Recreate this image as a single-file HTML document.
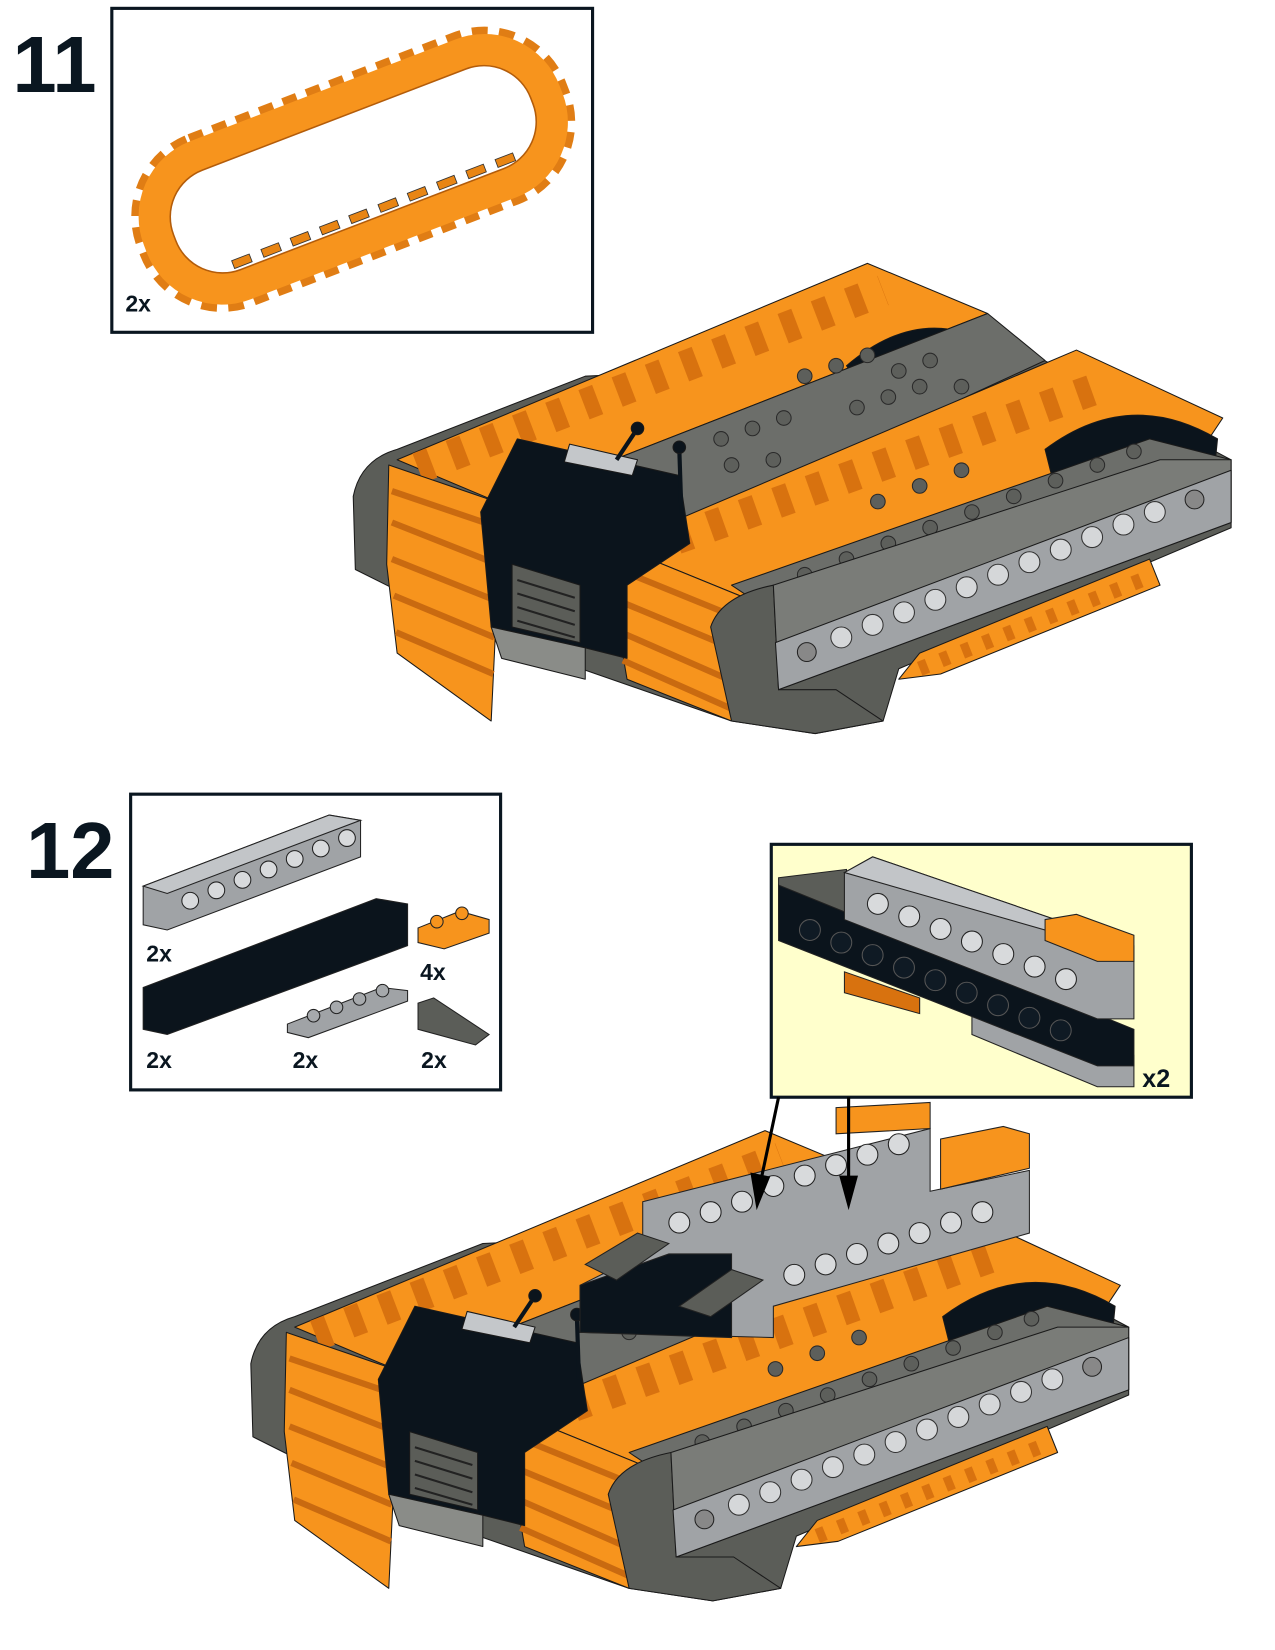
<!DOCTYPE html>
<html><head><meta charset="utf-8"><style>
html,body{margin:0;padding:0;background:#fff;}
svg{display:block;}
text{font-family:"Liberation Sans",sans-serif;font-weight:bold;fill:#0a1620;}
</style></head><body>
<svg width="1275" height="1650" viewBox="0 0 1220 1579" preserveAspectRatio="none" xmlns="http://www.w3.org/2000/svg">
<defs>
<g id="tank" stroke="#1a1a1a" stroke-width="1" stroke-linejoin="round">
  <path d="M338,475 Q345,440 380,430 L560,360 L990,340 L1178,440 L1178,505 L860,640 L845,690 L780,702 L700,690 L470,610 L340,545 Z" fill="#5b5d58"/>
  <path d="M380,440 L830,252 L945,300 L480,482 Z" fill="#f7941d"/>
  <line x1="400" y1="448" x2="845" y2="278" stroke="#d8720f" stroke-width="30" stroke-dasharray="14 20"/>
  <path d="M372,445 L480,482 L470,690 L380,625 L370,540 Z" fill="#f7941d"/>
  <path d="M375,470 L478,505 M375,500 L476,540 M375,535 L475,575 M377,570 L473,610 M379,605 L472,645" stroke="#c96a10" stroke-width="6" fill="none"/>
  <path d="M810,350 Q880,290 950,330 L950,380 L830,380 Z" fill="#0b141c"/>
  <path d="M480,482 L945,300 L1000,345 L620,520 L560,500 Z" fill="#6c6e6a"/>
  <g fill="#5d5f5b" stroke="#2a2a2a">
    <circle cx="770" cy="360" r="7"/><circle cx="800" cy="350" r="7"/><circle cx="830" cy="340" r="7"/><circle cx="860" cy="355" r="7"/><circle cx="890" cy="345" r="7"/>
    <circle cx="690" cy="420" r="7"/><circle cx="720" cy="410" r="7"/><circle cx="750" cy="400" r="7"/><circle cx="740" cy="440" r="7"/><circle cx="700" cy="445" r="7"/>
    <circle cx="820" cy="390" r="7"/><circle cx="850" cy="380" r="7"/><circle cx="880" cy="370" r="7"/><circle cx="920" cy="370" r="7"/>
  </g>
  <path d="M590,522 L1030,335 L1170,400 L1150,430 L720,575 Z" fill="#f7941d"/>
  <line x1="615" y1="527" x2="1060" y2="368" stroke="#d8720f" stroke-width="30" stroke-dasharray="14 20"/>
  <path d="M1000,430 Q1080,370 1165,420 L1160,470 L1010,470 Z" fill="#0b141c"/>
  <path d="M700,560 L1100,420 L1178,440 L760,600 Z" fill="#6c6e6a"/>
  <g fill="#5d5f5b" stroke="#2a2a2a">
    <circle cx="770" cy="550" r="7"/><circle cx="810" cy="535" r="7"/><circle cx="850" cy="520" r="7"/><circle cx="890" cy="505" r="7"/><circle cx="930" cy="490" r="7"/><circle cx="970" cy="475" r="7"/><circle cx="1010" cy="460" r="7"/><circle cx="1050" cy="445" r="7"/><circle cx="1085" cy="432" r="7"/>
    <circle cx="840" cy="480" r="7"/><circle cx="880" cy="465" r="7"/><circle cx="920" cy="450" r="7"/>
  </g>
  <path d="M590,522 L720,575 L700,690 L600,650 L588,580 Z" fill="#f7941d"/>
  <path d="M592,545 L715,595 M592,575 L712,625 M594,605 L708,655 M596,632 L704,680" stroke="#c96a10" stroke-width="6" fill="none"/>
  <path d="M860,650 L880,625 L1100,535 L1110,560 L900,645 Z" fill="#f7941d"/>
  <path d="M880,640 L1100,552" stroke="#d8720f" stroke-width="14" stroke-dasharray="8 14"/>
  <path d="M680,600 Q690,570 740,560 L745,660 L800,660 L845,690 L780,702 L700,690 Z" fill="#5b5d58"/>
  <path d="M740,560 L1110,440 L1178,440 L1178,500 L745,660 Z" fill="#7a7c78"/>
  <path d="M742,615 L1178,450 L1178,500 L745,660 Z" fill="#a0a3a6"/>
  <g fill="#d5d7d9" stroke="#333">
    <circle cx="805" cy="610" r="10"/><circle cx="835" cy="598" r="10"/><circle cx="865" cy="586" r="10"/><circle cx="895" cy="574" r="10"/><circle cx="925" cy="562" r="10"/><circle cx="955" cy="550" r="10"/><circle cx="985" cy="538" r="10"/><circle cx="1015" cy="526" r="10"/><circle cx="1045" cy="514" r="10"/><circle cx="1075" cy="502" r="10"/><circle cx="1105" cy="490" r="10"/>
  </g>
  <circle cx="772" cy="624" r="9" fill="#888" stroke="#222"/>
  <circle cx="1143" cy="478" r="9" fill="#888" stroke="#222"/>
  <path d="M460,490 L495,420 L650,455 L660,520 L600,560 L600,630 L560,620 L470,600 Z" fill="#0b141c"/>
  <path d="M545,425 L610,440 L605,455 L540,442 Z" fill="#c4c7ca"/>
  <path d="M490,540 L555,560 L555,615 L490,600 Z" fill="#5b5d58"/>
  <path d="M495,555 L550,572 M495,568 L550,585 M495,581 L550,598 M495,594 L550,610" stroke="#222" stroke-width="2"/>
  <path d="M470,600 L560,620 L560,650 L480,630 Z" fill="#8a8c88"/>
  <line x1="590" y1="440" x2="610" y2="410" stroke="#0b141c" stroke-width="4"/>
  <circle cx="610" cy="410" r="6" fill="#0b141c"/>
  <line x1="650" y1="430" x2="652" y2="490" stroke="#0b141c" stroke-width="4"/>
  <circle cx="650" cy="428" r="6" fill="#0b141c"/>
</g>
</defs>

<text x="12" y="88" font-size="76">11</text>
<rect x="107" y="8" width="460" height="310" fill="#fff" stroke="#0a1620" stroke-width="3"/>
<g transform="translate(338,162) rotate(-21)">
  <rect x="-210" y="-78" width="420" height="156" rx="74" fill="none" stroke="#e07d14" stroke-width="20" stroke-dasharray="14 10"/>
  <rect x="-198" y="-66" width="396" height="132" rx="62" fill="none" stroke="#f7941d" stroke-width="30"/>
  <rect x="-183" y="-51" width="366" height="102" rx="48" fill="none" stroke="#b35c0a" stroke-width="1.5"/>
  <g fill="#e88514" stroke="#333" stroke-width="0.8">
    <rect x="-140" y="40" width="18" height="8"/><rect x="-110" y="40" width="18" height="8"/><rect x="-80" y="40" width="18" height="8"/><rect x="-50" y="40" width="18" height="8"/><rect x="-20" y="40" width="18" height="8"/><rect x="10" y="40" width="18" height="8"/><rect x="40" y="40" width="18" height="8"/><rect x="70" y="40" width="18" height="8"/><rect x="100" y="40" width="18" height="8"/><rect x="130" y="40" width="18" height="8"/>
  </g>
</g>
<text x="120" y="298" font-size="22">2x</text>

<use href="#tank"/>

<text x="25" y="840" font-size="76">12</text>
<rect x="125" y="760" width="354" height="283" fill="#fff" stroke="#0a1620" stroke-width="3"/>
<g stroke="#222" stroke-width="1">
  <path d="M137,848 L315,780 L345,785 L345,820 L160,890 L137,885 Z" fill="#a0a3a6"/>
  <path d="M137,848 L315,780 L345,785 L160,855 Z" fill="#c2c5c8"/>
  <g fill="#d8dadc"><circle cx="182" cy="862" r="8"/><circle cx="207" cy="852" r="8"/><circle cx="232" cy="842" r="8"/><circle cx="257" cy="832" r="8"/><circle cx="282" cy="822" r="8"/><circle cx="307" cy="812" r="8"/><circle cx="332" cy="802" r="8"/></g>
  <path d="M137,945 L360,860 L390,865 L390,905 L160,990 L137,985 Z" fill="#0b141c"/>
  <path d="M400,888 L440,872 L468,880 L468,893 L425,908 L400,902 Z" fill="#f7941d"/>
  <circle cx="418" cy="882" r="6" fill="#f7941d"/><circle cx="442" cy="874" r="6" fill="#f7941d"/>
  <path d="M275,980 L365,945 L390,948 L390,958 L295,993 L275,988 Z" fill="#a0a3a6"/>
  <g fill="#a6a9ac"><circle cx="300" cy="972" r="6"/><circle cx="322" cy="964" r="6"/><circle cx="344" cy="956" r="6"/><circle cx="366" cy="948" r="6"/></g>
  <path d="M400,985 L400,960 L415,955 L468,990 L455,1000 Z" fill="#5b5d58"/>
</g>
<text x="140" y="920" font-size="22">2x</text>
<text x="402" y="938" font-size="22">4x</text>
<text x="140" y="1022" font-size="22">2x</text>
<text x="280" y="1022" font-size="22">2x</text>
<text x="403" y="1022" font-size="22">2x</text>

<use href="#tank" transform="translate(-98,830)"/>
<g stroke="#222" stroke-width="1">
  <path d="M800,1060 L890,1055 L890,1080 L800,1085 Z" fill="#f7941d"/>
  <path d="M615,1150 L890,1080 L890,1140 L985,1120 L985,1180 L740,1250 L740,1280 L555,1275 L555,1230 L615,1200 Z" fill="#a0a3a6"/>
  <path d="M900,1090 L960,1078 L985,1085 L985,1118 L900,1138 Z" fill="#f7941d"/>
  <path d="M555,1230 L640,1200 L700,1200 L700,1280 L555,1275 Z" fill="#0b141c"/>
  <path d="M560,1210 L610,1180 L640,1190 L590,1225 Z" fill="#5b5d58"/>
  <path d="M650,1250 L700,1215 L730,1225 L680,1260 Z" fill="#5b5d58"/>
  <g fill="#d8dadc">
    <circle cx="650" cy="1170" r="10"/><circle cx="680" cy="1160" r="10"/><circle cx="710" cy="1150" r="10"/><circle cx="740" cy="1135" r="10"/><circle cx="770" cy="1125" r="10"/><circle cx="800" cy="1115" r="10"/><circle cx="830" cy="1105" r="10"/><circle cx="860" cy="1095" r="10"/>
    <circle cx="760" cy="1220" r="10"/><circle cx="790" cy="1210" r="10"/><circle cx="820" cy="1200" r="10"/><circle cx="850" cy="1190" r="10"/><circle cx="880" cy="1180" r="10"/><circle cx="910" cy="1170" r="10"/><circle cx="940" cy="1160" r="10"/>
  </g>
</g>

<rect x="738" y="808" width="402" height="242" fill="#ffffcc" stroke="#0a1620" stroke-width="3"/>
<g stroke="#222" stroke-width="1">
  <path d="M745,840 L810,832 L810,905 L745,880 Z" fill="#5b5d58"/>
  <path d="M808,930 L880,955 L880,970 L808,950 Z" fill="#d8720f"/>
  <path d="M930,960 L1050,1010 L1085,1010 L1085,1040 L1050,1040 L930,990 Z" fill="#a0a3a6"/>
  <path d="M745,847 L1085,985 L1085,1020 L1050,1020 L745,900 Z" fill="#0b141c"/>
  <path d="M808,835 L835,820 L1010,880 L1085,905 L1085,975 L1050,975 L808,880 Z" fill="#a0a3a6"/>
  <path d="M808,835 L835,820 L1010,880 L1000,890 Z" fill="#c2c5c8"/>
  <path d="M1000,880 L1030,875 L1085,895 L1085,920 L1050,920 L1000,900 Z" fill="#f7941d"/>
  <g fill="#d8dadc"><circle cx="840" cy="865" r="10"/><circle cx="870" cy="877" r="10"/><circle cx="900" cy="889" r="10"/><circle cx="930" cy="901" r="10"/><circle cx="960" cy="913" r="10"/><circle cx="990" cy="925" r="10"/><circle cx="1020" cy="937" r="10"/></g>
  <g fill="#0f1a24" stroke="#555"><circle cx="775" cy="890" r="10"/><circle cx="805" cy="902" r="10"/><circle cx="835" cy="914" r="10"/><circle cx="865" cy="926" r="10"/><circle cx="895" cy="938" r="10"/><circle cx="925" cy="950" r="10"/><circle cx="955" cy="962" r="10"/><circle cx="985" cy="974" r="10"/><circle cx="1015" cy="986" r="10"/></g>
</g>
<text x="1093" y="1040" font-size="24">x2</text>

<g stroke="#000" stroke-width="3">
  <line x1="745" y1="1050" x2="728" y2="1130"/>
  <line x1="812" y1="1050" x2="812" y2="1130"/>
</g>
<path d="M718,1122 L737,1126 L724,1158 Z" fill="#000"/>
<path d="M803,1125 L821,1125 L812,1158 Z" fill="#000"/>
</svg>
</body></html>
